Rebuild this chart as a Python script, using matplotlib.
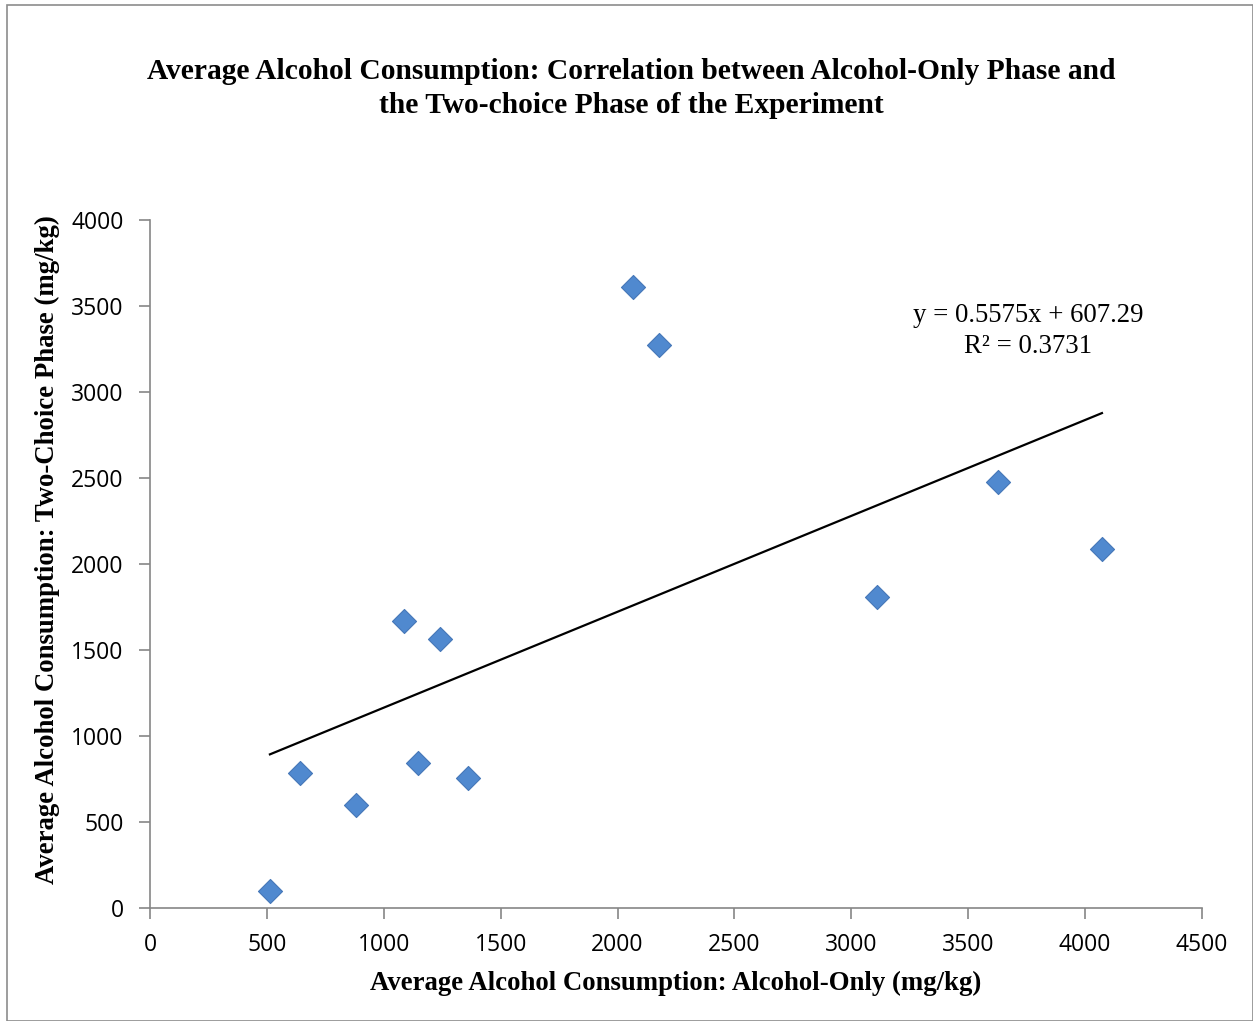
import matplotlib
matplotlib.use("Agg")
import matplotlib.pyplot as plt
from matplotlib.patches import Rectangle
import numpy as np

# Data
alcohol_only = [513, 642, 881, 1086, 1146, 1240, 1360, 2066, 2177, 3110, 3627, 4072]
two_choice = [99, 785, 599, 1669, 843, 1564, 756, 3610, 3273, 1808, 2477, 2087]
slope = 0.5575
intercept = 607.29
r_squared = 0.3731
x_ticks = [0, 500, 1000, 1500, 2000, 2500, 3000, 3500, 4000, 4500]
y_ticks = [0, 500, 1000, 1500, 2000, 2500, 3000, 3500, 4000]

W, H = 1253, 1021
fig = plt.figure(figsize=(W / 100, H / 100), dpi=100)
fig.patch.set_facecolor("white")

# outer border
fig.patches.append(Rectangle((7 / W, 0.5 / H), (W - 7.5) / W, (H - 5.5) / H,
                             transform=fig.transFigure, fill=False,
                             edgecolor="#8c8c8c", linewidth=1.2))

ax = fig.add_axes([150 / W, 1 - 908 / H, (1202 - 150) / W, (908 - 220) / H])

ax.scatter(alcohol_only, two_choice, marker="D", s=150, c="#5089CF",
           edgecolors="#4677b8", linewidths=0.8, zorder=3)

xs = np.array([min(alcohol_only), max(alcohol_only)])
ax.plot(xs, slope * xs + intercept, color="black", linewidth=1.6, zorder=2)

ax.set_xlim(0, 4500)
ax.set_ylim(0, 4000)
ax.set_xticks(x_ticks)
ax.set_yticks(y_ticks)
tick_font = dict(family="Open Sans", size=16.5)
ax.set_xticklabels([str(v) for v in x_ticks], **tick_font)
ax.set_yticklabels([str(v) for v in y_ticks], **tick_font)
ax.tick_params(axis="both", colors="#868686", labelcolor="black",
               length=8, width=1.2, direction="out")
ax.tick_params(axis="x", pad=10)
ax.tick_params(axis="y", pad=11)
for s in ["top", "right"]:
    ax.spines[s].set_visible(False)
for s in ["left", "bottom"]:
    ax.spines[s].set_color("#868686")
    ax.spines[s].set_linewidth(1.2)

serif = "Liberation Serif"
fig.text(631 / W, 1 - 88.5 / H,
         "Average Alcohol Consumption: Correlation between Alcohol-Only Phase and\nthe Two-choice Phase of the Experiment",
         ha="center", va="center", family=serif, weight="bold", size=21.25,
         linespacing=1.36)
fig.text(676 / W, 1 - 983 / H, "Average Alcohol Consumption: Alcohol-Only (mg/kg)",
         ha="center", va="center", family=serif, weight="bold", size=19.3)
fig.text(47 / W, 1 - 550 / H, "Average Alcohol Consumption: Two-Choice Phase (mg/kg)",
         ha="center", va="center", rotation=90, family=serif, weight="bold", size=19.3)

fig.text(1028 / W, 1 - 331 / H,
         f"y = {slope}x + {intercept}\nR² = {r_squared}",
         ha="center", va="center", family=serif, size=19.3, linespacing=1.28)

fig.savefig("out.png", dpi=100, facecolor="white")
